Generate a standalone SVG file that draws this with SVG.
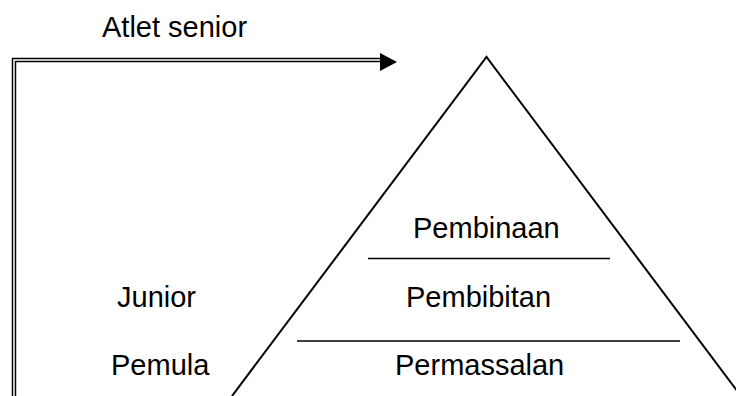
<svg xmlns="http://www.w3.org/2000/svg" width="736" height="396" viewBox="0 0 736 396">
<style>
.t{font-family:"Liberation Sans",Arial,sans-serif;font-size:29px;fill:#000}
.ln{stroke:#000;stroke-width:1.5;fill:none}
.dbl{stroke:#000;stroke-width:4.5;fill:none}
.dbl-in{stroke:#fff;stroke-width:1.5;fill:none}
</style>
<rect width="736" height="396" fill="#fff"/>
<g id="connectors">
<path class="dbl" d="M14 396 V60 H382"/>
<path class="dbl-in" d="M14 396 V60 H382"/>
<polygon points="380,53 397,62 380,71" fill="#000"/>
</g>
<g id="pyramid">
<polyline class="ln" points="232,396 486.5,57 741,396" style="stroke-width:2"/>
<line class="ln" x1="368" y1="258.5" x2="610" y2="258.5"/>
<line class="ln" x1="297" y1="341" x2="680" y2="341"/>
</g>
<g id="label-atlet-senior"><text class="t" x="102" y="37">Atlet senior</text></g>
<g id="label-pembinaan"><text class="t" x="413" y="238">Pembinaan</text></g>
<g id="label-junior"><text class="t" x="117" y="307">Junior</text></g>
<g id="label-pembibitan"><text class="t" x="406" y="307">Pembibitan</text></g>
<g id="label-pemula"><text class="t" x="111" y="375">Pemula</text></g>
<g id="label-permassalan"><text class="t" x="395" y="375">Permassalan</text></g>
</svg>
